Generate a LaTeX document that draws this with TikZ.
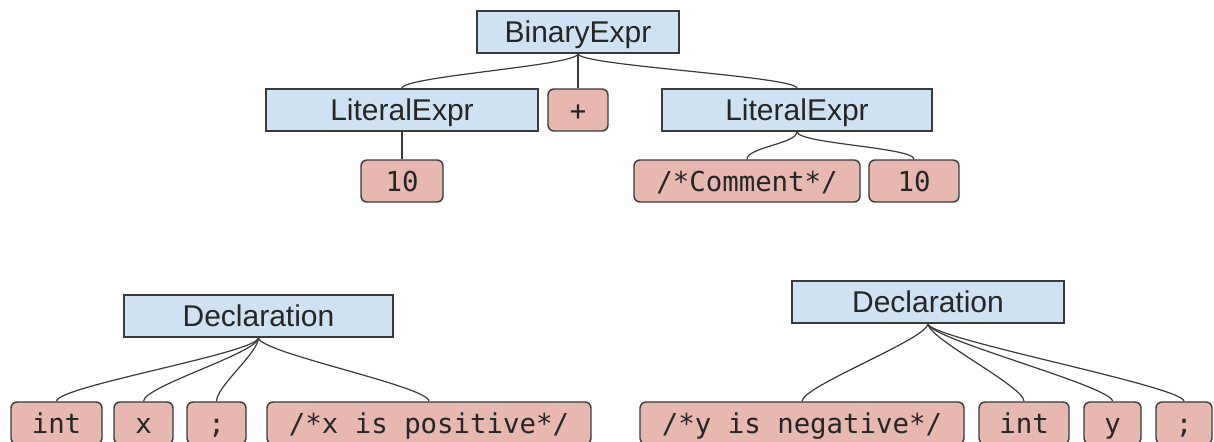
\documentclass[tikz,border=0pt]{standalone}
\usepackage{fontspec}
\setmainfont{Liberation Sans}
\newfontfamily\codefont{DejaVu Sans Mono}

\definecolor{nodeblue}{HTML}{CFE2F3}
\definecolor{tokenred}{HTML}{E6B8AF}
\definecolor{edgegray}{HTML}{3A3A3A}

\begin{document}
\begin{tikzpicture}[x=0.5pt, y=-0.5pt,
    wire/.style={draw=edgegray, line width=0.6pt},
    link/.style={wire, to path={.. controls +(0,#1) and +(0,-#1) .. (\tikztotarget)}},
    link/.default=12,
    syn/.style={draw=edgegray, line width=0.7pt, fill=nodeblue, inner sep=0pt,
      minimum height=21pt, text=black!85, font=\fontsize{15}{18}\selectfont,
      text height=12pt, text depth=1pt},
    tok/.style={syn, fill=tokenred, rounded corners=3pt,
      font=\codefont\fontsize{13.7}{16}\selectfont, text height=10.5pt, text depth=0pt}]

  \useasboundingbox (0,0) rectangle (1214,442);

  % Expression tree
  \node[syn, minimum width=101pt] (bin)  at (578,32)  {BinaryExpr};
  \node[syn, minimum width=136pt] (litl) at (402,110) {LiteralExpr};
  \node[tok, minimum width=30pt]  (plus) at (578,110) {+};
  \node[syn, minimum width=135pt] (litr) at (797,110) {LiteralExpr};
  \node[tok, minimum width=41pt]  (tenl) at (402,181) {10};
  \node[tok, minimum width=113pt] (comm) at (747,181) {/*Comment*/};
  \node[tok, minimum width=45pt]  (tenr) at (914,181) {10};

  \draw[link] (bin.south) to (litl.north);
  \draw[wire] (bin.south) -- (plus.north);
  \draw[link] (bin.south) to (litr.north);
  \draw[wire] (litl.south) -- (tenl.north);
  \draw[link] (litr.south) to (comm.north);
  \draw[link] (litr.south) to (tenr.north);

  % Declaration, comment last
  \node[syn, minimum width=134.5pt] (decl)  at (258.5,316) {Declaration};
  \node[tok, minimum width=45.5pt]  (intl)  at (56.5,423)  {int};
  \node[tok, minimum width=29.5pt]  (xid)   at (143.5,423) {x};
  \node[tok, minimum width=29.5pt]  (semil) at (216.5,423) {;};
  \node[tok, minimum width=162pt]   (posc)  at (429,423)   {/*x is positive*/};

  \draw[link=15] (decl.south) to (intl.north);
  \draw[link=15] (decl.south) to (xid.north);
  \draw[link=15] (decl.south) to (semil.north);
  \draw[link=15] (decl.south) to (posc.north);

  % Declaration, comment first
  \node[syn, minimum width=136pt] (decr)  at (928,302)    {Declaration};
  \node[tok, minimum width=162pt] (negc)  at (802,423)    {/*y is negative*/};
  \node[tok, minimum width=45pt]  (intr)  at (1024,423)   {int};
  \node[tok, minimum width=28.5pt] (yid)  at (1112.5,423) {y};
  \node[tok, minimum width=28pt]  (semir) at (1184,423)   {;};

  \draw[link=15] (decr.south) to (negc.north);
  \draw[link=15] (decr.south) to (intr.north);
  \draw[link=15] (decr.south) to (yid.north);
  \draw[link=15] (decr.south) to (semir.north);

\end{tikzpicture}
\end{document}
